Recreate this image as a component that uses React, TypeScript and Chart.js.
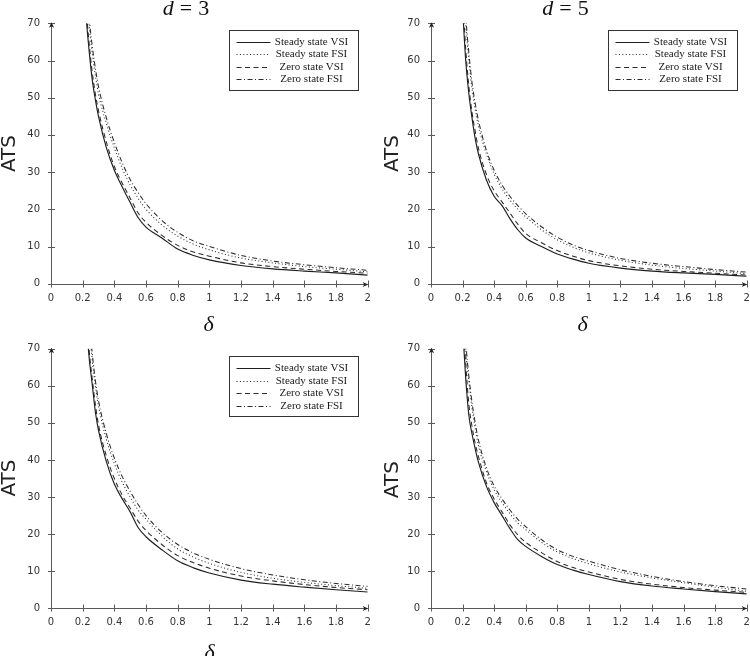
import { useEffect, useRef } from 'react';
import { Chart, registerables } from 'chart.js';

Chart.register(...registerables);

// ---------- data ----------
const deltas = [0.2, 0.22, 0.24, 0.26, 0.28, 0.3, 0.35, 0.4, 0.45, 0.5, 0.55, 0.6, 0.7, 0.8, 0.9, 1.0, 1.2, 1.4, 1.6, 1.8, 2.0];
const xTickValues = [0, 0.2, 0.4, 0.6, 0.8, 1, 1.2, 1.4, 1.6, 1.8, 2];
const yTickValues = [0, 10, 20, 30, 40, 50, 60, 70];
const seriesNames = ['Steady state VSI', 'Steady state FSI', 'Zero state VSI', 'Zero state FSI'];

// top-left, d = 3
const p1SteadyVSI = [90, 73, 63, 55, 49.5, 45, 36.5, 30.5, 26, 21.8, 17.8, 15.2, 12.3, 9.3, 7.6, 6.4, 4.9, 4.0, 3.4, 2.9, 2.3];
const p1SteadyFSI = [100, 82, 70, 62, 56, 51, 43, 36.5, 31, 26.5, 23, 20, 15.8, 12.8, 10.6, 9.1, 6.9, 5.6, 4.6, 3.9, 3.2];
const p1ZeroVSI = [95, 76, 65, 57, 51, 46.5, 38, 31.5, 27, 23, 19, 16.5, 13, 10.3, 8.5, 7.4, 5.6, 4.6, 3.9, 3.3, 2.8];
const p1ZeroFSI = [104, 84, 72, 64, 58, 53, 44.5, 38, 32.5, 28, 24.5, 21.5, 17, 13.8, 11.5, 10, 7.6, 6.1, 5.1, 4.3, 3.6];

// top-right, d = 5
const p2SteadyVSI = [74, 60, 51, 44.5, 39, 35, 28, 23.5, 21, 17.5, 14.5, 12.3, 10, 8.0, 6.6, 5.5, 4.2, 3.4, 2.9, 2.5, 2.0];
const p2SteadyFSI = [85, 70, 60, 52.5, 47, 42.5, 35, 29.5, 25.5, 22.5, 20, 18, 14.5, 11.8, 9.8, 8.3, 6.3, 5.0, 4.1, 3.4, 2.7];
const p2ZeroVSI = [78, 63, 53, 46, 41, 36.5, 29.5, 25, 22, 19, 16, 13.5, 11, 8.9, 7.4, 6.2, 4.8, 3.9, 3.3, 2.8, 2.3];
const p2ZeroFSI = [87, 72, 62, 54, 48.5, 44, 36, 30.5, 26.5, 23.5, 21, 18.8, 15.3, 12.5, 10.4, 8.9, 6.8, 5.5, 4.6, 3.8, 3.1];

// bottom-left
const p3SteadyVSI = [100, 80, 68, 60.5, 53, 48, 39.5, 33.5, 29.5, 26, 21.8, 19.3, 15.8, 12.8, 10.9, 9.5, 7.6, 6.5, 5.7, 5.0, 4.4];
const p3SteadyFSI = [112, 90, 77, 67, 60, 54.5, 45.5, 39, 34, 30, 26.5, 24, 19.5, 16, 13.8, 12.1, 9.7, 8.1, 7.0, 6.1, 5.4];
const p3ZeroVSI = [104, 83, 70, 62, 55, 49.5, 41, 35, 30.5, 27, 23.5, 21, 17.2, 14.2, 12.3, 10.8, 8.7, 7.4, 6.4, 5.6, 5.0];
const p3ZeroFSI = [115, 92, 79, 69, 61.5, 56, 47, 40.5, 35.5, 31.5, 28, 25, 20.5, 17.2, 14.9, 13.2, 10.7, 9.0, 7.7, 6.7, 5.9];

// bottom-right
const p4SteadyVSI = [76, 62, 52, 47, 43, 39.5, 33, 28.5, 25, 21.5, 18.5, 16.7, 14, 11.8, 10.3, 9.1, 7.2, 6.0, 5.2, 4.5, 3.9];
const p4SteadyFSI = [85, 70, 61, 54, 48.5, 44, 37, 32, 28.5, 25.5, 23, 21.2, 17.8, 15.2, 13.4, 12.0, 9.8, 8.2, 6.9, 5.7, 4.6];
const p4ZeroVSI = [80, 66, 55, 49, 44.5, 41, 34, 29.5, 26, 22.5, 19.8, 17.8, 15, 12.6, 11, 9.8, 7.8, 6.5, 5.6, 4.9, 4.3];
const p4ZeroFSI = [87, 72, 62.5, 55.5, 50, 45.5, 38, 33, 29.5, 26.5, 24, 22, 18.5, 15.8, 14, 12.7, 10.4, 8.6, 7.2, 6.1, 5.2];

// ---------- styles / layout ----------
const H = 340;
const W = 375;
const lineStyles = [
  { dash: [] as number[], color: '#1e1e1e', width: 1.15 },
  { dash: [1, 2.4], color: '#2a2a2a', width: 1.05 },
  { dash: [5, 3.5], color: '#2a2a2a', width: 1.05 },
  { dash: [5, 2.5, 1, 2.5], color: '#2a2a2a', width: 1.05 },
];

type PanelCfg = {
  left: number;
  top: number;
  series: number[][];
  axisLeft: number;
  padRight: number;
  plotTop: number;
  plotBottom: number;
  title?: string;
  titleX: number;
  atsX: number;
  atsY: number;
  showDelta: boolean;
  deltaX: number;
  legend?: { x: number; y: number };
};

const panels: PanelCfg[] = [
  { left: 0, top: 0, series: [p1SteadyVSI, p1SteadyFSI, p1ZeroVSI, p1ZeroFSI], axisLeft: 51, padRight: 7.3, plotTop: 23.3, plotBottom: 283.7, title: '3', titleX: 186, atsX: 8, atsY: 153.5, showDelta: true, deltaX: 208.5, legend: { x: 229, y: 30 } },
  { left: 375, top: 0, series: [p2SteadyVSI, p2SteadyFSI, p2ZeroVSI, p2ZeroFSI], axisLeft: 56, padRight: 3.3, plotTop: 23.3, plotBottom: 283.7, title: '5', titleX: 190.5, atsX: 15.5, atsY: 153.5, showDelta: true, deltaX: 207.5, legend: { x: 233, y: 30 } },
  { left: 0, top: 328, series: [p3SteadyVSI, p3SteadyFSI, p3ZeroVSI, p3ZeroFSI], axisLeft: 51, padRight: 7.3, plotTop: 20.7, plotBottom: 280.3, titleX: 186, atsX: 7.5, atsY: 150, showDelta: true, deltaX: 209.5, legend: { x: 229, y: 28.3 } },
  { left: 375, top: 328, series: [p4SteadyVSI, p4SteadyFSI, p4ZeroVSI, p4ZeroFSI], axisLeft: 56, padRight: 3.3, plotTop: 20.7, plotBottom: 280.3, titleX: 190.5, atsX: 15.3, atsY: 151.7, showDelta: false, deltaX: 0 },
];

function drawArrow(ctx: CanvasRenderingContext2D, x: number, y: number, dir: 'up' | 'right') {
  ctx.save();
  ctx.translate(x, y);
  if (dir === 'right') ctx.rotate(Math.PI / 2);
  ctx.beginPath();
  ctx.moveTo(0, 0);
  ctx.lineTo(2.6, 5.5);
  ctx.lineTo(0, 4);
  ctx.lineTo(-2.6, 5.5);
  ctx.closePath();
  ctx.fillStyle = '#222';
  ctx.fill();
  ctx.restore();
}

function decorPlugin(cfg: PanelCfg) {
  return {
    id: 'decor',
    afterDraw(chart: any) {
      const ctx: CanvasRenderingContext2D = chart.ctx;
      const xs = chart.scales.x;
      const ys = chart.scales.y;
      const ax = Math.round(xs.getPixelForValue(0)) + 0.5;
      const ay = Math.round(ys.getPixelForValue(0)) + 0.5;
      const xEnd = xs.getPixelForValue(2);
      const yTop = ys.getPixelForValue(70);
      ctx.save();
      ctx.strokeStyle = '#5a5a5a';
      ctx.lineWidth = 1;
      ctx.setLineDash([]);
      // axes
      ctx.beginPath();
      ctx.moveTo(ax, ay);
      ctx.lineTo(xEnd, ay);
      ctx.moveTo(ax, ay);
      ctx.lineTo(ax, yTop);
      ctx.stroke();
      // ticks
      ctx.beginPath();
      xTickValues.forEach((v) => {
        const px = Math.round(xs.getPixelForValue(v)) + 0.5;
        ctx.moveTo(px, ay - 4);
        ctx.lineTo(px, ay + 3);
      });
      yTickValues.forEach((v) => {
        const py = Math.round(ys.getPixelForValue(v)) + 0.5;
        ctx.moveTo(ax - 3.5, py);
        ctx.lineTo(ax + 3.5, py);
      });
      ctx.stroke();
      drawArrow(ctx, ax, yTop - 1, 'up');
      drawArrow(ctx, xEnd + 0.5, ay, 'right');

      // ATS label
      ctx.save();
      ctx.translate(cfg.atsX, cfg.atsY);
      ctx.rotate(-Math.PI / 2);
      ctx.font = '20px "DejaVu Sans"';
      ctx.fillStyle = '#222';
      ctx.textAlign = 'center';
      ctx.textBaseline = 'alphabetic';
      ctx.fillText('ATS', 0, 7.3);
      ctx.restore();

      // delta label
      if (cfg.showDelta) {
        ctx.font = 'italic 22px "Liberation Serif"';
        ctx.fillStyle = '#111';
        ctx.textAlign = 'center';
        ctx.textBaseline = 'alphabetic';
        ctx.fillText('δ', cfg.deltaX, 331);
      }

      // title
      if (cfg.title) {
        ctx.fillStyle = '#111';
        ctx.textBaseline = 'alphabetic';
        ctx.textAlign = 'left';
        const fi = 'italic 22px "Liberation Serif"';
        const fr = '22px "Liberation Serif"';
        ctx.font = fi;
        const wd = ctx.measureText('d').width;
        ctx.font = fr;
        const we = ctx.measureText('=').width;
        const wn = ctx.measureText(cfg.title).width;
        const gap = 6;
        const total = wd + gap + we + gap + wn;
        let x = cfg.titleX - total / 2;
        ctx.font = fi;
        ctx.fillText('d', x, 15);
        x += wd + gap;
        ctx.font = fr;
        ctx.fillText('=', x, 15);
        x += we + gap;
        ctx.fillText(cfg.title, x, 15);
      }

      // legend
      if (cfg.legend) {
        const bx = cfg.legend.x;
        const by = cfg.legend.y;
        const bw = 129;
        const bh = 60;
        ctx.fillStyle = '#fff';
        ctx.fillRect(bx, by, bw, bh);
        ctx.strokeStyle = '#333';
        ctx.lineWidth = 1;
        ctx.strokeRect(Math.round(bx) + 0.5, Math.round(by) + 0.5, bw, bh);
        ctx.font = '11px "Liberation Serif"';
        ctx.textAlign = 'center';
        ctx.textBaseline = 'middle';
        seriesNames.forEach((name, i) => {
          const ly = Math.round(by + 11.7 + i * 12.5) + 0.5;
          const st = lineStyles[i];
          ctx.beginPath();
          ctx.setLineDash(st.dash);
          ctx.strokeStyle = st.color;
          ctx.lineWidth = st.width;
          ctx.moveTo(bx + 7.5, ly);
          ctx.lineTo(bx + 41.5, ly);
          ctx.stroke();
          ctx.setLineDash([]);
          ctx.fillStyle = '#1a1a1a';
          ctx.fillText(name, bx + 82.5, ly);
        });
      }
      ctx.restore();
    },
  };
}

function Panel({ cfg }: { cfg: PanelCfg }) {
  const ref = useRef<HTMLCanvasElement>(null);
  useEffect(() => {
    if (!ref.current) return;
    const chart = new Chart(ref.current, {
      type: 'line',
      data: {
        datasets: cfg.series.map((vals, i) => ({
          label: seriesNames[i],
          data: deltas.map((d, j) => ({ x: d, y: vals[j] })),
          borderColor: lineStyles[i].color,
          borderWidth: lineStyles[i].width,
          borderDash: lineStyles[i].dash,
          pointRadius: 0,
          fill: false,
          cubicInterpolationMode: 'monotone' as const,
        })),
      },
      options: {
        responsive: false,
        animation: false,
        devicePixelRatio: 1,
        events: [],
        layout: { padding: { left: 0, right: cfg.padRight, top: cfg.plotTop, bottom: 0 } },
        plugins: {
          legend: { display: false },
          tooltip: { enabled: false },
          title: { display: false },
        },
        scales: {
          x: {
            type: 'linear',
            min: 0,
            max: 2,
            grid: { display: false, drawTicks: false },
            border: { display: false },
            ticks: {
              padding: 8.6,
              color: '#333',
              font: { family: 'DejaVu Sans', size: 10 },
              autoSkip: false,
              maxRotation: 0,
              callback: (v: any) => String(Math.round(Number(v) * 10) / 10),
            },
            afterBuildTicks: (s: any) => {
              s.ticks = xTickValues.map((v) => ({ value: v }));
            },
            afterFit: (s: any) => {
              s.height = H - cfg.plotBottom;
              s.paddingLeft = 0;
              s.paddingRight = 0;
            },
          },
          y: {
            type: 'linear',
            min: 0,
            max: 70,
            grid: { display: false, drawTicks: false },
            border: { display: false },
            ticks: {
              padding: 11,
              color: '#333',
              font: { family: 'DejaVu Sans', size: 10 },
              autoSkip: false,
              callback: (v: any) => String(v),
            },
            afterBuildTicks: (s: any) => {
              s.ticks = yTickValues.map((v) => ({ value: v }));
            },
            afterFit: (s: any) => {
              s.width = cfg.axisLeft;
              s.paddingTop = 0;
              s.paddingBottom = 0;
            },
          },
        },
      },
      plugins: [decorPlugin(cfg)],
    } as any);
    return () => chart.destroy();
  }, []);
  return (
    <canvas
      ref={ref}
      width={W}
      height={H}
      style={{ position: 'absolute', left: cfg.left, top: cfg.top, width: W, height: H }}
    />
  );
}

export default function App() {
  return (
    <div
      style={{
        position: 'fixed',
        left: 0,
        top: 0,
        width: 750,
        height: 656,
        overflow: 'hidden',
        background: '#fff',
      }}
    >
      {panels.map((p, i) => (
        <Panel key={i} cfg={p} />
      ))}
    </div>
  );
}
